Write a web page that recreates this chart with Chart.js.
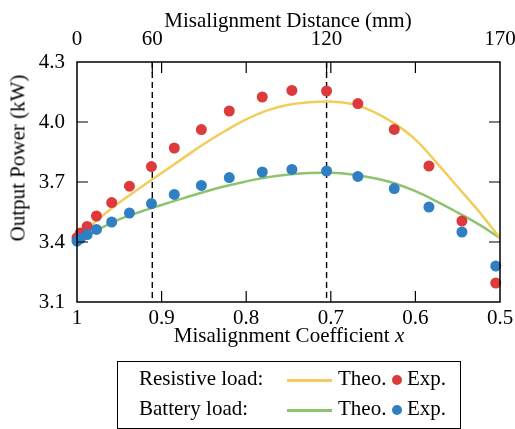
<!DOCTYPE html>
<html>
<head>
<meta charset="utf-8">
<script src="https://cdn.jsdelivr.net/npm/chart.js@4.4.1/dist/chart.umd.min.js"></script>
<style>
  body { margin: 0; background: #fff; }
  #wrap { position: relative; width: 515px; height: 429px; font-family: 'Liberation Serif', 'Times New Roman', serif; color: #000; }
  #chart { position: absolute; left: 0; top: 0; }
  .txt { position: absolute; font-size: 21px; line-height: 1; white-space: nowrap; }
  .title { transform: translate(-50%, -50%); }
  .ytitle { transform: translate(-50%, -50%) rotate(-90deg); }
  #legend { position: absolute; left: 117px; top: 361px; width: 344px; height: 68px; box-sizing: border-box; border: 1px solid #000; }
  .seg { position: absolute; width: 45px; height: 3px; }
  .dot { position: absolute; width: 10px; height: 10px; border-radius: 50%; }
</style>
</head>
<body>
<div id="wrap">
  <canvas id="chart" width="515" height="429"></canvas>
  <div class="txt title" style="left:288px; top:20px;">Misalignment Distance (mm)</div>
  <div class="txt title" style="left:289px; top:335px;">Misalignment Coefficient <i>x</i></div>
  <div class="txt ytitle" style="left:18px; top:158px;">Output Power (kW)</div>
  <div id="legend"></div>
  <div class="txt" style="left:139px; top:368px;">Resistive load:</div>
  <div class="seg" style="left:287px; top:379px; background:#f3cd5b;"></div>
  <div class="txt" style="left:338px; top:368px;">Theo.</div>
  <div class="dot" style="left:392px; top:375px; background:#dc3a3b;"></div>
  <div class="txt" style="left:407px; top:368px;">Exp.</div>
  <div class="txt" style="left:139px; top:398px;">Battery load:</div>
  <div class="seg" style="left:287px; top:409px; background:#8fc46f;"></div>
  <div class="txt" style="left:338px; top:398px;">Theo.</div>
  <div class="dot" style="left:392px; top:405px; background:#2f7fc2;"></div>
  <div class="txt" style="left:407px; top:398px;">Exp.</div>
</div>
<script>
// Axis ticks
const coefTicks = [1, 0.9, 0.8, 0.7, 0.6, 0.5];
const powerTicks = [3.1, 3.4, 3.7, 4.0, 4.3];
const distanceLabels = ['0', '60', '120', '170'];
const distanceCoef = [1, 0.911, 0.705, 0.5]; // where each distance sits on the coefficient axis

// Measured points (kW)
const expCoef = [1.0, 0.996, 0.988, 0.977, 0.959, 0.938, 0.912, 0.885, 0.853, 0.82, 0.781, 0.746, 0.705, 0.668, 0.625, 0.584, 0.545, 0.505];
const resistiveExp = [3.422, 3.445, 3.478, 3.53, 3.597, 3.679, 3.777, 3.87, 3.962, 4.055, 4.125, 4.158, 4.155, 4.092, 3.963, 3.78, 3.505, 3.195];
const batteryExp = [3.405, 3.417, 3.437, 3.463, 3.50, 3.545, 3.592, 3.638, 3.683, 3.722, 3.75, 3.763, 3.755, 3.728, 3.667, 3.575, 3.45, 3.28];

// Theoretical curves (kW)
const theoCoef = [1.0, 0.975, 0.95, 0.925, 0.9, 0.875, 0.85, 0.825, 0.8, 0.775, 0.75, 0.725, 0.7, 0.675, 0.65, 0.625, 0.6, 0.575, 0.55, 0.525, 0.5];
const resistiveTheo = [3.42, 3.513, 3.597, 3.672, 3.745, 3.818, 3.89, 3.955, 4.013, 4.058, 4.086, 4.099, 4.102, 4.09, 4.052, 3.993, 3.912, 3.797, 3.675, 3.553, 3.42];
const batteryTheo = [3.40, 3.462, 3.513, 3.551, 3.585, 3.618, 3.65, 3.679, 3.703, 3.724, 3.737, 3.745, 3.746, 3.738, 3.72, 3.694, 3.654, 3.603, 3.547, 3.488, 3.42];

const YELLOW = '#f3cd5b';
const GREEN = '#8fc46f';
const RED = '#dc3a3b';
const BLUE = '#2f7fc2';

const font = { family: "'Liberation Serif', 'Times New Roman', serif", size: 21 };
const TICK_LEN = 11;

const pairs = (xs, ys) => xs.map((x, i) => ({ x: x, y: ys[i] }));

// dashed markers, box frame and inward tick marks
const framePlugin = {
    id: 'frame',
    beforeDatasetsDraw(chart) {
        const { ctx, chartArea: a, scales } = chart;
        ctx.save();
        ctx.strokeStyle = '#000';
        ctx.lineWidth = 1.4;
        ctx.setLineDash([6, 4]);
        distanceCoef.slice(1, -1).forEach(v => {
            const px = scales.x.getPixelForValue(v);
            ctx.beginPath();
            ctx.moveTo(px, a.top);
            ctx.lineTo(px, a.bottom);
            ctx.stroke();
        });
        ctx.restore();
    },
    afterDatasetsDraw(chart) {
        const { ctx, chartArea: a, scales } = chart;
        ctx.save();
        ctx.strokeStyle = '#000';
        ctx.lineWidth = 1.2;
        ctx.beginPath();
        coefTicks.slice(1, -1).forEach(v => {
            const px = scales.x.getPixelForValue(v);
            ctx.moveTo(px, a.bottom);
            ctx.lineTo(px, a.bottom - TICK_LEN);
            ctx.moveTo(px, a.top);
            ctx.lineTo(px, a.top + TICK_LEN);
        });
        distanceCoef.slice(1, -1).forEach(v => {
            const px = scales.x2.getPixelForValue(v);
            ctx.moveTo(px, a.top);
            ctx.lineTo(px, a.top + TICK_LEN);
        });
        powerTicks.slice(1, -1).forEach(v => {
            const py = scales.y.getPixelForValue(v);
            ctx.moveTo(a.left, py);
            ctx.lineTo(a.left + TICK_LEN, py);
            ctx.moveTo(a.right, py);
            ctx.lineTo(a.right - TICK_LEN, py);
        });
        ctx.stroke();
        ctx.lineWidth = 1.5;
        ctx.strokeRect(a.left, a.top, a.right - a.left, a.bottom - a.top);
        ctx.restore();
    }
};

new Chart(document.getElementById('chart'), {
    type: 'scatter',
    data: {
        datasets: [
            {
                label: 'Battery Exp.',
                data: pairs(expCoef, batteryExp),
                backgroundColor: BLUE,
                pointRadius: 5.5,
                pointBorderWidth: 0,
                clip: false,
                order: 0
            },
            {
                label: 'Resistive Exp.',
                data: pairs(expCoef, resistiveExp),
                backgroundColor: RED,
                pointRadius: 5.5,
                pointBorderWidth: 0,
                clip: false,
                order: 1
            },
            {
                label: 'Resistive Theo.',
                data: pairs(theoCoef, resistiveTheo),
                showLine: true,
                borderColor: YELLOW,
                borderWidth: 2.5,
                pointRadius: 0,
                tension: 0.4,
                order: 2
            },
            {
                label: 'Battery Theo.',
                data: pairs(theoCoef, batteryTheo),
                showLine: true,
                borderColor: GREEN,
                borderWidth: 2.5,
                pointRadius: 0,
                tension: 0.4,
                order: 3
            }
        ]
    },
    options: {
        responsive: false,
        animation: false,
        devicePixelRatio: 1,
        layout: { padding: { left: 0, right: 15, top: 0, bottom: 0 } },
        plugins: {
            legend: { display: false },
            tooltip: { enabled: false }
        },
        scales: {
            x: {
                type: 'linear',
                position: 'bottom',
                reverse: true,
                min: 0.5,
                max: 1,
                afterBuildTicks: s => { s.ticks = coefTicks.map(v => ({ value: v })); },
                afterFit: s => { s.height = 127; s.paddingLeft = 0; s.paddingRight = 0; },
                grid: { display: false, drawTicks: false },
                border: { display: false },
                ticks: {
                    padding: 4,
                    font: font,
                    color: '#000',
                    maxRotation: 0,
                    autoSkip: false,
                    callback: v => (v === 1 ? '1' : v.toFixed(1))
                }
            },
            x2: {
                type: 'linear',
                position: 'top',
                reverse: true,
                min: 0.5,
                max: 1,
                afterBuildTicks: s => { s.ticks = distanceCoef.map(v => ({ value: v })); },
                afterFit: s => { s.height = 62; s.paddingLeft = 0; s.paddingRight = 0; },
                grid: { display: false, drawTicks: false },
                border: { display: false },
                ticks: {
                    padding: 10,
                    font: font,
                    color: '#000',
                    maxRotation: 0,
                    autoSkip: false,
                    callback: (v, i) => distanceLabels[i]
                }
            },
            y: {
                min: 3.1,
                max: 4.3,
                afterBuildTicks: s => { s.ticks = powerTicks.map(v => ({ value: v })); },
                afterFit: s => { s.width = 77; s.paddingTop = 0; s.paddingBottom = 0; },
                grid: { display: false, drawTicks: false },
                border: { display: false },
                ticks: {
                    padding: 12,
                    font: font,
                    color: '#000',
                    callback: v => v.toFixed(1)
                }
            }
        }
    },
    plugins: [framePlugin]
});
</script>
</body>
</html>
